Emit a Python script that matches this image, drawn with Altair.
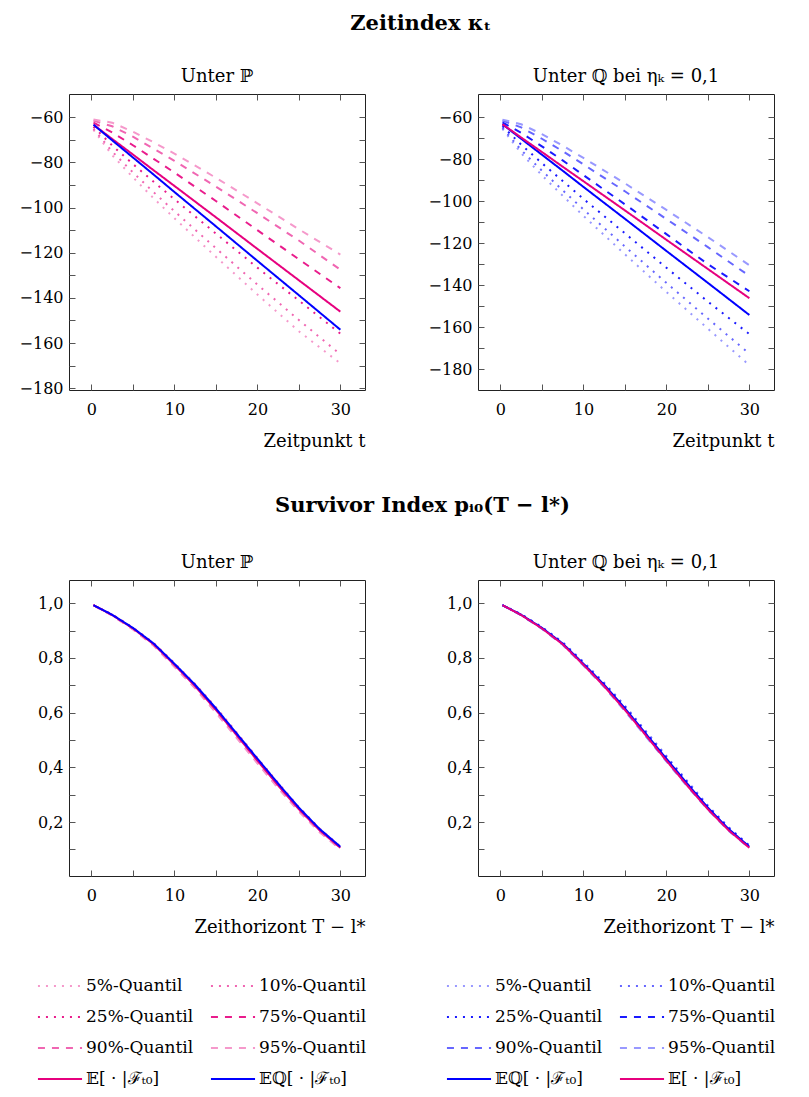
import altair as alt
import pandas as pd

FONT = "DejaVu Serif"

# ---------------- data ----------------
t_kappa = [0.25, 2.5, 5, 7.5, 10, 15, 20, 25, 30]

kappa_E = [-63.3, -69.6, -76.5, -83.5, -90.4, -104.3, -118.3, -132.2, -146.1]
kappa_EQ = [-63.3, -70.2, -77.8, -85.4, -93.1, -108.3, -123.6, -138.8, -154.1]

kP_q05 = [-65.6, -76.8, -86.6, -95.9, -104.7, -121.8, -138.5, -154.8, -169.0]
kP_q10 = [-65.1, -75.2, -84.4, -93.2, -101.6, -118.0, -134.1, -149.8, -165.0]
kP_q25 = [-64.2, -72.5, -80.7, -88.6, -96.3, -111.5, -126.6, -141.2, -155.8]
kP_q75 = [-62.4, -66.7, -72.4, -78.4, -84.5, -97.1, -110.0, -122.9, -135.7]
kP_q90 = [-61.5, -64.0, -68.6, -73.9, -79.3, -90.7, -102.5, -114.6, -127.5]
kP_q95 = [-61.0, -62.4, -66.4, -71.1, -76.1, -86.8, -98.1, -109.6, -120.8]

kQ_q05 = [-65.5, -77.1, -87.6, -97.3, -106.9, -125.2, -143.1, -160.6, -178.0]
kQ_q10 = [-65.0, -75.6, -85.4, -94.7, -103.8, -121.5, -138.8, -155.8, -172.5]
kQ_q25 = [-64.2, -73.0, -81.8, -90.3, -98.8, -115.2, -131.6, -147.7, -163.2]
kQ_q75 = [-62.4, -67.4, -73.8, -80.5, -87.5, -101.4, -115.6, -129.9, -142.8]
kQ_q90 = [-61.6, -64.8, -70.2, -76.1, -82.4, -95.2, -108.4, -121.8, -135.5]
kQ_q95 = [-61.1, -63.3, -68.0, -73.5, -79.3, -91.4, -104.1, -117.0, -130.4]

t_surv = [0.25, 2.5, 5, 7.5, 10, 12.5, 15, 17.5, 20, 22.5, 25, 27.5, 30]

surv_E = [0.993, 0.957, 0.908, 0.850, 0.775, 0.697, 0.610, 0.518, 0.425, 0.334, 0.247, 0.170, 0.106]
surv_EQ = [0.993, 0.958, 0.910, 0.853, 0.779, 0.702, 0.616, 0.524, 0.432, 0.341, 0.253, 0.175, 0.110]

sP_q05 = [0.993, 0.959, 0.911, 0.855, 0.782, 0.705, 0.620, 0.528, 0.435, 0.344, 0.255, 0.177, 0.111]
sP_q10 = [0.993, 0.958, 0.911, 0.854, 0.780, 0.703, 0.618, 0.526, 0.433, 0.342, 0.253, 0.175, 0.110]
sP_q25 = [0.993, 0.958, 0.909, 0.852, 0.778, 0.700, 0.614, 0.522, 0.429, 0.338, 0.250, 0.173, 0.108]
sP_q75 = [0.993, 0.956, 0.907, 0.848, 0.772, 0.694, 0.606, 0.514, 0.421, 0.330, 0.244, 0.167, 0.104]
sP_q90 = [0.993, 0.956, 0.905, 0.846, 0.770, 0.691, 0.602, 0.510, 0.417, 0.326, 0.241, 0.165, 0.102]
sP_q95 = [0.993, 0.955, 0.905, 0.845, 0.768, 0.689, 0.600, 0.508, 0.415, 0.324, 0.239, 0.163, 0.101]

sQ_q05 = [0.993, 0.960, 0.913, 0.858, 0.786, 0.710, 0.626, 0.534, 0.442, 0.351, 0.261, 0.182, 0.115]
sQ_q10 = [0.993, 0.959, 0.913, 0.857, 0.784, 0.708, 0.624, 0.532, 0.440, 0.349, 0.259, 0.180, 0.114]
sQ_q25 = [0.993, 0.959, 0.911, 0.855, 0.782, 0.705, 0.620, 0.528, 0.436, 0.345, 0.256, 0.178, 0.112]
sQ_q75 = [0.993, 0.957, 0.909, 0.851, 0.776, 0.699, 0.612, 0.520, 0.428, 0.337, 0.250, 0.172, 0.108]
sQ_q90 = [0.993, 0.957, 0.907, 0.849, 0.774, 0.696, 0.608, 0.516, 0.424, 0.333, 0.247, 0.170, 0.106]
sQ_q95 = [0.993, 0.956, 0.907, 0.848, 0.772, 0.694, 0.606, 0.514, 0.422, 0.331, 0.245, 0.168, 0.105]

q_names = ["\u20075%-Quantil", "10%-Quantil", "25%-Quantil", "75%-Quantil", "90%-Quantil", "95%-Quantil"]
name_E = "𝔼[ · |ℱₜ₀]"
name_EQ = "𝔼ℚ[ · |ℱₜ₀]"

# ---------------- styles ----------------
pink_E, pink90, pink60, pink40 = "#E6007E", "#E91C8C", "#F066B2", "#F599CB"
blue_E, blue90, blue60, blue40 = "#0000FF", "#1A1AFF", "#6666FF", "#9999FF"
DOT, DASH, SOLID = [2, 6], [7, 7], [1, 0]
q_dash = [DOT, DOT, DOT, DASH, DASH, DASH]

left_names = q_names + [name_E, name_EQ]
left_colors_all = [pink40, pink60, pink90, pink90, pink60, pink40, pink_E, blue_E]
right_names = q_names + [name_EQ, name_E]
right_colors_all = [blue40, blue60, blue90, blue90, blue60, blue40, blue_E, pink_E]
dashes_all = q_dash + [SOLID, SOLID]

# legend fills column by column: reorder so rows read (5,10) (25,75) (90,95) (E, EQ)
LEG_ORDER = [0, 2, 4, 6, 1, 3, 5, 7]


def reorder(lst):
    return [lst[i] for i in LEG_ORDER]


def make_df(t, series_lists, names):
    rows = []
    for name, vals in zip(names, series_lists):
        for tt, vv in zip(t, vals):
            rows.append({"t": tt, "v": vv, "series": name})
    return pd.DataFrame(rows)


df_kP = make_df(t_kappa, [kP_q05, kP_q10, kP_q25, kP_q75, kP_q90, kP_q95, kappa_E, kappa_EQ], left_names)
df_kQ = make_df(t_kappa, [kQ_q05, kQ_q10, kQ_q25, kQ_q75, kQ_q90, kQ_q95, kappa_EQ, kappa_E], right_names)
df_sP = make_df(t_surv, [sP_q05, sP_q10, sP_q25, sP_q75, sP_q90, sP_q95, surv_E, surv_EQ], left_names)
df_sQ = make_df(t_surv, [sQ_q05, sQ_q10, sQ_q25, sQ_q75, sQ_q90, sQ_q95, surv_EQ, surv_E], right_names)

X_DOMAIN = [-2.7, 32.97]
X_VALUES = [0, 5, 10, 15, 20, 25, 30]
TICK = dict(domain=False, grid=False, ticks=True, tickSize=6, tickColor="#555555",
            tickWidth=1, offset=-6)

W = 296
H = 296


def panel(df, names, colors, ydom, yvals, ylabel_expr, xtitle, title, legend):
    domain = reorder(names)
    crange = reorder(colors)
    drange = reorder(dashes_all)
    xs = alt.Scale(domain=X_DOMAIN, nice=False, zero=False)
    ys = alt.Scale(domain=ydom, nice=False, zero=False)
    x_main = alt.Axis(orient="bottom", values=X_VALUES,
                      labelExpr="datum.value % 10 == 0 ? format(datum.value, 'd') : ''",
                      labelFont=FONT, labelFontSize=16, labelColor="black", labelPadding=11,
                      labelOverlap=False, labelFlush=False,
                      title=xtitle, titleFont=FONT, titleFontSize=18, titleFontWeight="normal",
                      titleAnchor="end", titleColor="black", titlePadding=15, **TICK)
    y_main = alt.Axis(orient="left", values=yvals, labelExpr=ylabel_expr,
                      labelFont=FONT, labelFontSize=16, labelColor="black", labelPadding=6,
                      labelOverlap=False, labelFlush=False,
                      minExtent=54, maxExtent=54, title=None, **TICK)
    x_aux = alt.Axis(orient="top", values=X_VALUES, labels=False, title=None,
                     minExtent=0, maxExtent=0, **TICK)
    y_aux = alt.Axis(orient="right", values=yvals, labels=False, title=None,
                     minExtent=0, maxExtent=0, **TICK)

    if legend:
        leg = alt.Legend(orient="none", legendX=-32, legendY=390, columns=2, title=None,
                         symbolType="M-1.47,0H1.47", symbolSize=900, symbolStrokeWidth=2,
                         symbolOffset=7, labelOffset=10, labelFont=FONT, labelFontSize=17,
                         labelColor="black", labelLimit=400, rowPadding=7, columnPadding=12,
                         padding=0)
    else:
        leg = None

    lines = alt.Chart(df).mark_line(strokeWidth=2, clip=True).encode(
        x=alt.X("t:Q", scale=xs, axis=x_main),
        y=alt.Y("v:Q", scale=ys, axis=y_main),
        color=alt.Color("series:N", scale=alt.Scale(domain=domain, range=crange), legend=leg),
        strokeDash=alt.StrokeDash("series:N", scale=alt.Scale(domain=domain, range=drange), legend=leg),
    )
    aux = alt.Chart(df).mark_line(opacity=0).encode(
        x=alt.X("t:Q", scale=xs, axis=x_aux),
        y=alt.Y("v:Q", scale=ys, axis=y_aux),
    )
    return alt.layer(lines, aux).resolve_axis(x="independent", y="independent").properties(
        width=W, height=H,
        title=alt.TitleParams(title, font=FONT, fontSize=18, fontWeight="normal", anchor="middle",
                              frame="group", offset=8, color="black"),
    )


kappa_expr = "datum.value % 20 == 0 ? format(datum.value, 'd') : ''"
surv_expr = "round(datum.value * 10) % 2 == 0 ? replace(format(datum.value, '.1f'), '.', ',') : ''"

kL_vals = [-180, -170, -160, -150, -140, -130, -120, -110, -100, -90, -80, -70, -60]
kR_vals = [-180, -170, -160, -150, -140, -130, -120, -110, -100, -90, -80, -70, -60]
s_vals = [0.1, 0.2, 0.3, 0.4, 0.5, 0.6, 0.7, 0.8, 0.9, 1.0]

tl = panel(df_kP, left_names, left_colors_all, [-180.8, -49.7], kL_vals, kappa_expr,
           "Zeitpunkt t", "Unter ℙ", False)
tr = panel(df_kQ, right_names, right_colors_all, [-189.8, -48.9], kR_vals, kappa_expr,
           "Zeitpunkt t", "Unter ℚ bei ηₖ = 0,1", False)
bl = panel(df_sP, left_names, left_colors_all, [0.003, 1.085], s_vals, surv_expr,
           "Zeithorizont T − l*", "Unter ℙ", True)
br = panel(df_sQ, right_names, right_colors_all, [0.003, 1.085], s_vals, surv_expr,
           "Zeithorizont T − l*", "Unter ℚ bei ηₖ = 0,1", True)

row_title = dict(font=FONT, fontSize=21, fontWeight="bold", anchor="middle", color="black", dx=24)

top = alt.hconcat(tl, tr, spacing=61).resolve_scale(color="independent", strokeDash="independent").properties(
    title=alt.TitleParams("Zeitindex κₜ", offset=33, **row_title))
bottom = alt.hconcat(bl, br, spacing=61).resolve_scale(color="independent", strokeDash="independent").properties(
    title=alt.TitleParams("Survivor Index pᵢ₀(T − l*)", offset=37, **row_title))

chart = alt.vconcat(top, bottom, spacing=44).resolve_scale(
    color="independent", strokeDash="independent"
).properties(
    padding={"left": 10, "top": 5, "right": 0, "bottom": 5}
).configure(font=FONT).configure_view(stroke="#222222", strokeWidth=1)

chart.save("out.html", embed_options={"renderer": "svg", "actions": False})
